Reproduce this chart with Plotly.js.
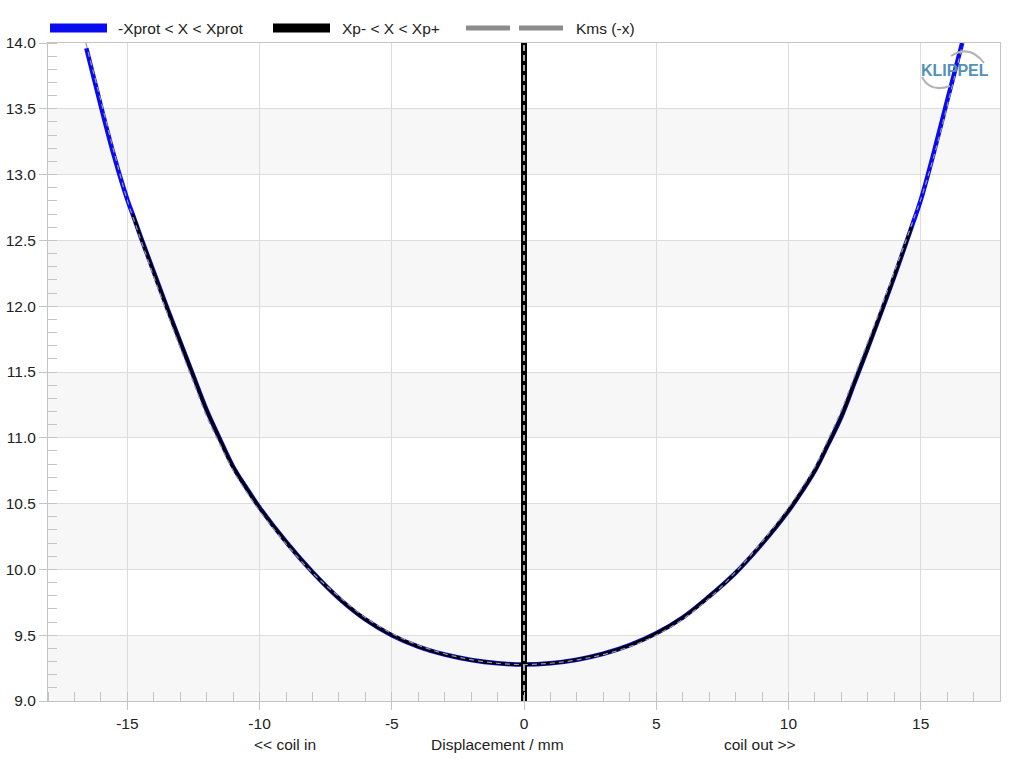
<!DOCTYPE html>
<html>
<head>
<meta charset="utf-8">
<script src="https://cdn.plot.ly/plotly-3.0.1.min.js"></script>
<style>
html,body{margin:0;padding:0;background:#fff;}
#chart{width:1024px;height:761px;}
</style>
</head>
<body>
<div id="chart"></div>
<script>
// Displacement (mm) and Kms values
const kmsX = [-16.55, -16.0, -15.5, -15.0, -14.8, -14.5, -14.0, -13.5, -13.0, -12.5, -12.0, -11.5, -11.0, -10.5, -10.0, -9.0, -8.0, -7.0, -6.0, -5.0, -4.0, -3.0, -2.0, -1.0, 0.0, 1.0, 2.0, 3.0, 4.0, 5.0, 6.0, 7.0, 8.0, 9.0, 10.0, 10.5, 11.0, 11.5, 12.0, 12.5, 13.0, 13.5, 14.0, 14.5, 14.67, 15.0, 15.5, 16.0, 16.57];
const kmsY = [13.96, 13.52, 13.14, 12.81, 12.70, 12.53, 12.26, 11.99, 11.73, 11.47, 11.21, 10.99, 10.78, 10.62, 10.47, 10.21, 9.98, 9.78, 9.62, 9.50, 9.413, 9.353, 9.312, 9.287, 9.277, 9.287, 9.314, 9.359, 9.424, 9.514, 9.634, 9.794, 9.974, 10.194, 10.444, 10.59, 10.75, 10.95, 11.16, 11.42, 11.68, 11.95, 12.224, 12.51, 12.61, 12.804, 13.17, 13.56, 14.00];

// Limits
const xpMinus = -14.8;
const xpPlus = 14.67;

// Rest-position marker at x = 0
const markerX = [0, 0];
const markerY = [9.0, 14.0];

// Axis ticks
const xTicks = [-15, -10, -5, 0, 5, 10, 15];
const yTicks = [9.0, 9.5, 10.0, 10.5, 11.0, 11.5, 12.0, 12.5, 13.0, 13.5, 14.0];

// Labels
const legendNames = ['-Xprot < X < Xprot', 'Xp- < X < Xp+', 'Kms (-x)'];
const xTitle = 'Displacement / mm';
const xLeftNote = '<< coil in';
const xRightNote = 'coil out >>';
const logoText = 'KLIPPEL';

// Derived series
const xpX = [], xpY = [];
kmsX.forEach((x, i) => { if (x >= xpMinus && x <= xpPlus) { xpX.push(x); xpY.push(kmsY[i]); } });
const mirX = kmsX.map(v => -v).reverse();
const mirY = kmsY.slice().reverse();

const BLUE = '#0a0af0';
const GRAY = '#8c8c8c';
const esc = s => s.replace(/&/g, '&amp;').replace(/</g, '&lt;').replace(/>/g, '&gt;');

const traces = [
  {x: kmsX, y: kmsY, mode: 'lines', line: {color: BLUE, width: 4.5, shape: 'spline', smoothing: 1}, showlegend: false, hoverinfo: 'skip'},
  {x: xpX, y: xpY, mode: 'lines', line: {color: '#000', width: 3, shape: 'spline', smoothing: 1}, showlegend: false, hoverinfo: 'skip'},
  {x: markerX, y: markerY, mode: 'lines', line: {color: '#000', width: 6}, showlegend: false, hoverinfo: 'skip'},
  {x: markerX, y: markerY, mode: 'lines', line: {color: '#f0f0f0', width: 1.4, dash: '6px,4px'}, showlegend: false, hoverinfo: 'skip'},
  {x: mirX, y: mirY, mode: 'lines', line: {color: '#9a9a9a', width: 1.2, dash: '5px,4px', shape: 'spline', smoothing: 1}, showlegend: false, hoverinfo: 'skip'}
];

const px2x = p => (p - 48) / 952;
const px2y = p => (701 - p) / 658;

// plot-area bands
const shapes = [];
for (let i = 0; i < yTicks.length - 1; i += 2) {
  shapes.push({type: 'rect', xref: 'paper', x0: 0, x1: 1, yref: 'y', y0: yTicks[i], y1: yTicks[i + 1],
    fillcolor: '#f7f7f7', line: {width: 0}, layer: 'below'});
}
// manual legend swatches
const legY = px2y(28);
shapes.push({type: 'line', xref: 'paper', yref: 'paper', x0: px2x(50), x1: px2x(107), y0: legY, y1: legY, line: {color: BLUE, width: 9}});
shapes.push({type: 'line', xref: 'paper', yref: 'paper', x0: px2x(273), x1: px2x(330), y0: legY, y1: legY, line: {color: '#000', width: 9}});
shapes.push({type: 'line', xref: 'paper', yref: 'paper', x0: px2x(466), x1: px2x(510), y0: legY, y1: legY, line: {color: GRAY, width: 5}});
shapes.push({type: 'line', xref: 'paper', yref: 'paper', x0: px2x(519), x1: px2x(563), y0: legY, y1: legY, line: {color: GRAY, width: 5}});
// logo arcs
shapes.push({type: 'path', xref: 'paper', yref: 'paper',
  path: `M ${px2x(951)} ${px2y(56)} Q ${px2x(970)} ${px2y(44)} ${px2x(984)} ${px2y(63)}`, line: {color: '#b4b4b4', width: 2}});
shapes.push({type: 'path', xref: 'paper', yref: 'paper',
  path: `M ${px2x(922)} ${px2y(77)} Q ${px2x(930)} ${px2y(93)} ${px2x(950)} ${px2y(86)}`, line: {color: '#b4b4b4', width: 2}});

const fontFam = '"Liberation Sans", Arial, sans-serif';
const txtFont = {family: fontFam, size: 15.5, color: '#222'};

const annotations = [
  {xref: 'paper', yref: 'paper', x: px2x(497), y: px2y(744), xanchor: 'center', yanchor: 'middle', text: esc(xTitle), showarrow: false, font: txtFont},
  {xref: 'paper', yref: 'paper', x: px2x(285), y: px2y(744), xanchor: 'center', yanchor: 'middle', text: esc(xLeftNote), showarrow: false, font: txtFont},
  {xref: 'paper', yref: 'paper', x: px2x(760), y: px2y(744), xanchor: 'center', yanchor: 'middle', text: esc(xRightNote), showarrow: false, font: txtFont},
  {xref: 'paper', yref: 'paper', x: px2x(955), y: px2y(71), xanchor: 'center', yanchor: 'middle', text: '<b>' + logoText + '</b>', showarrow: false, font: {family: fontFam, size: 16, color: '#5590b6'}},
  {xref: 'paper', yref: 'paper', x: px2x(116), y: legY, xanchor: 'left', yanchor: 'middle', text: esc(legendNames[0]), showarrow: false, font: txtFont},
  {xref: 'paper', yref: 'paper', x: px2x(340), y: legY, xanchor: 'left', yanchor: 'middle', text: esc(legendNames[1]), showarrow: false, font: txtFont},
  {xref: 'paper', yref: 'paper', x: px2x(574), y: legY, xanchor: 'left', yanchor: 'middle', text: esc(legendNames[2]), showarrow: false, font: txtFont}
];

const layout = {
  width: 1024, height: 761,
  margin: {l: 48, r: 24, t: 43, b: 60},
  paper_bgcolor: '#fff', plot_bgcolor: '#fff',
  font: txtFont,
  showlegend: false,
  xaxis: {
    range: [-18, 18], tickmode: 'array', tickvals: xTicks, ticktext: xTicks.map(String),
    showgrid: true, gridcolor: '#dcdcdc', gridwidth: 1, zeroline: false,
    showline: true, linecolor: '#c4c4c4', linewidth: 1, mirror: true,
    ticks: 'outside', ticklen: 8, tickcolor: '#c4c4c4',
    minor: {ticks: 'inside', dtick: 1, ticklen: 9, tickcolor: '#c4c4c4', showgrid: false},
    tickfont: txtFont
  },
  yaxis: {
    range: [9, 14], tickmode: 'array', tickvals: yTicks, ticktext: yTicks.map(v => v.toFixed(1)),
    showgrid: true, gridcolor: '#dcdcdc', gridwidth: 1, zeroline: false,
    showline: true, linecolor: '#c4c4c4', linewidth: 1, mirror: true,
    ticks: 'outside', ticklen: 8, tickcolor: '#c4c4c4',
    minor: {ticks: 'inside', dtick: 0.1, ticklen: 9, tickcolor: '#c4c4c4', showgrid: false},
    tickfont: txtFont
  },
  shapes: shapes,
  annotations: annotations
};

Plotly.newPlot('chart', traces, layout, {displayModeBar: false, staticPlot: true});
</script>
</body>
</html>
